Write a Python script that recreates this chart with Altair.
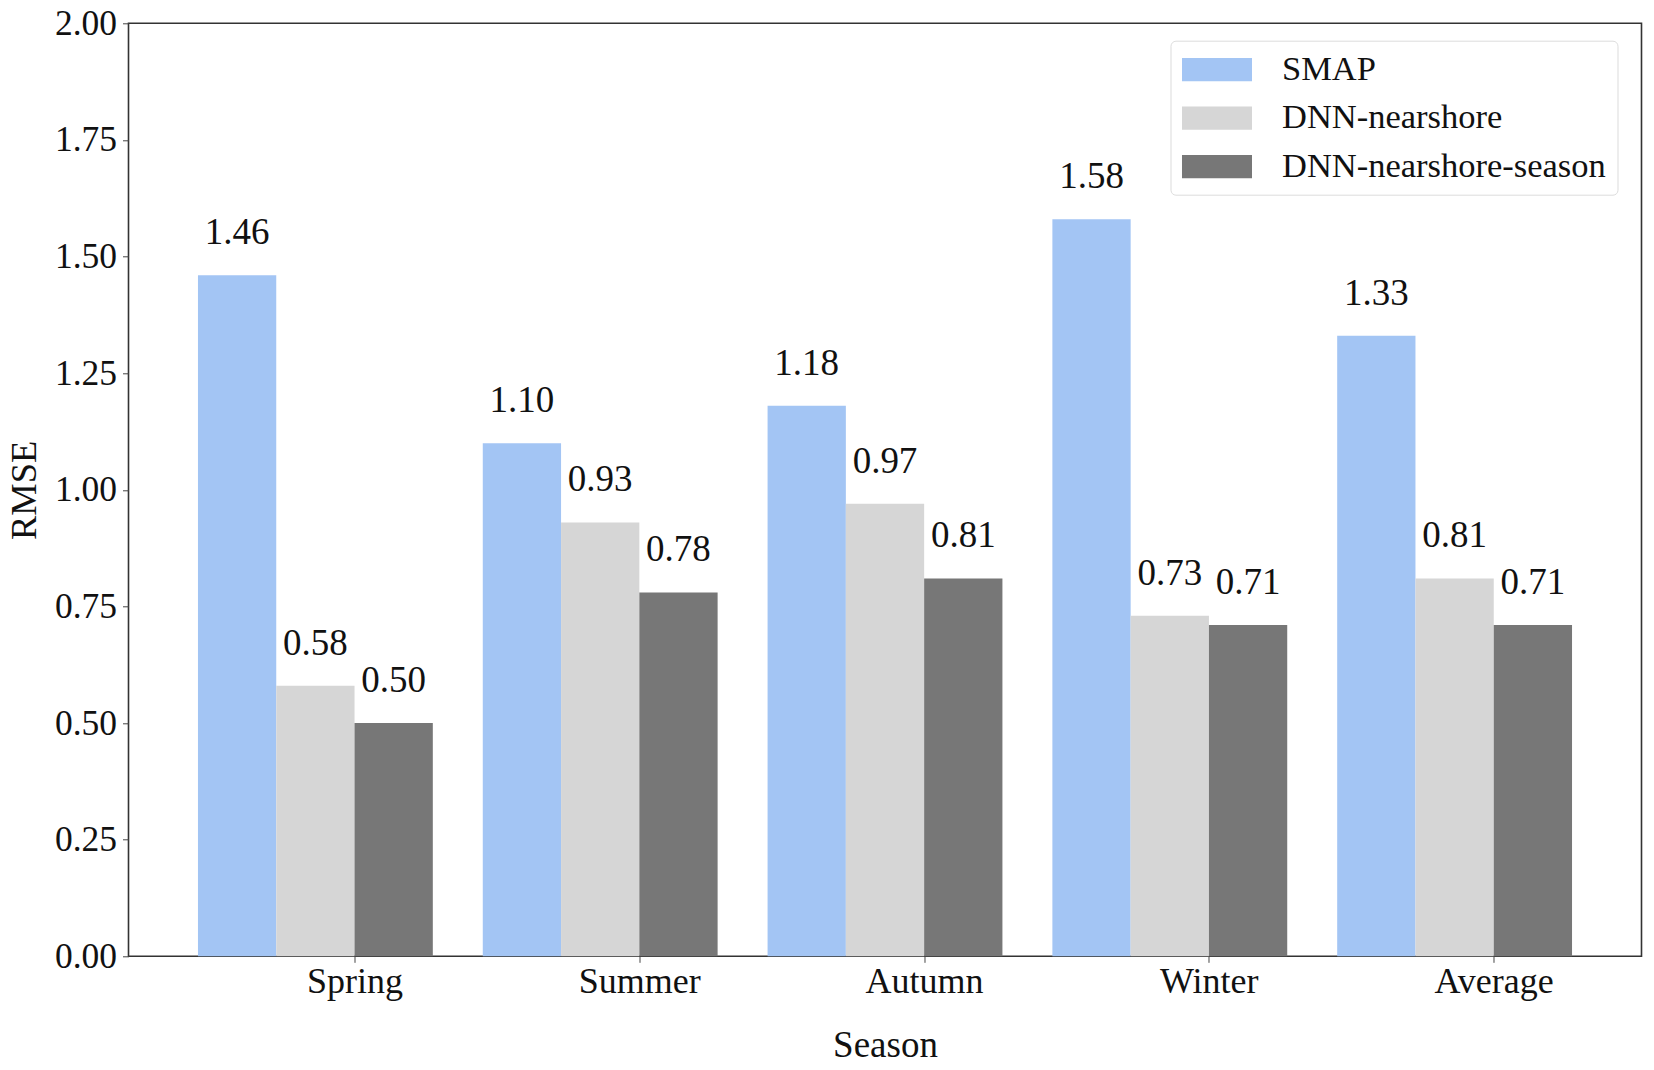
import altair as alt
import pandas as pd

seasons = ["Spring", "Summer", "Autumn", "Winter", "Average"]
models = ["SMAP", "DNN-nearshore", "DNN-nearshore-season"]
smap = [1.46, 1.10, 1.18, 1.58, 1.33]
dnn_nearshore = [0.58, 0.93, 0.97, 0.73, 0.81]
dnn_nearshore_season = [0.50, 0.78, 0.81, 0.71, 0.71]
colors = ["#a3c5f4", "#d6d6d6", "#777777"]
y_ticks = [0, 0.25, 0.5, 0.75, 1.0, 1.25, 1.5, 1.75, 2.0]

rows = []
for model, vals in zip(models, [smap, dnn_nearshore, dnn_nearshore_season]):
    for s, v in zip(seasons, vals):
        rows.append({"Season": s, "Model": model, "RMSE": v})
df = pd.DataFrame(rows)

FONT = "Liberation Serif"

x = alt.X("Season:N", sort=seasons, title="Season",
          scale=alt.Scale(paddingInner=0.1754, paddingOuter=0.2439),
          axis=alt.Axis(labelAngle=0, tickOffset=39, labelFontSize=36,
                        titleFontSize=37, labelPadding=2, titlePadding=28,
                        tickSize=6, domain=False, labelFont=FONT, titleFont=FONT,
                        labelColor="#111", titleColor="#111",
                        titleFontWeight="normal", tickColor="#444"))
xo = alt.XOffset("Model:N", sort=models,
                 scale=alt.Scale(paddingInner=0, paddingOuter=0))
y = alt.Y("RMSE:Q", title="RMSE",
          scale=alt.Scale(domain=[0, 2], nice=False, zero=True),
          axis=alt.Axis(values=y_ticks, format=".2f", labelFontSize=35.5,
                        titleFontSize=36.5, labelPadding=6, titlePadding=11,
                        tickSize=6, domain=False, grid=False, labelFont=FONT,
                        titleFont=FONT, labelColor="#111", titleColor="#111",
                        titleFontWeight="normal", tickColor="#444"))

bars = alt.Chart(df).mark_bar().encode(
    x=x, xOffset=xo, y=y,
    color=alt.Color("Model:N", sort=models,
                    scale=alt.Scale(domain=models, range=colors),
                    legend=alt.Legend(
                        title=None, orient="none", legendX=1042, legendY=17.4,
                        labelFont=FONT, labelFontSize=34.5, labelColor="#111",
                        labelLimit=0,
                        symbolType="M-1,-0.666H3V0.666H-1Z", symbolSize=1225,
                        symbolStrokeWidth=0, symbolOpacity=1, labelOffset=65,
                        rowPadding=13.5, padding=11.5, strokeColor="#dcdcdc",
                        cornerRadius=5, fillColor="white")),
)

labels = alt.Chart(df).mark_text(
    baseline="alphabetic", dy=-31, fontSize=37, font=FONT, color="#111"
).encode(
    x=alt.X("Season:N", sort=seasons),
    xOffset=alt.XOffset("Model:N", sort=models),
    y="RMSE:Q",
    text=alt.Text("RMSE:Q", format=".2f"),
)

chart = (bars + labels).properties(
    width=1513, height=933,
    autosize=alt.AutoSizeParams(type="none"),
    padding={"left": 120.5, "top": 15.3, "right": 4, "bottom": 105.5},
).configure_view(stroke="#333", strokeWidth=1.6).configure_axisY(
    domain=False
)

chart.save("out.html", embed_options={"renderer": "svg", "actions": False})
